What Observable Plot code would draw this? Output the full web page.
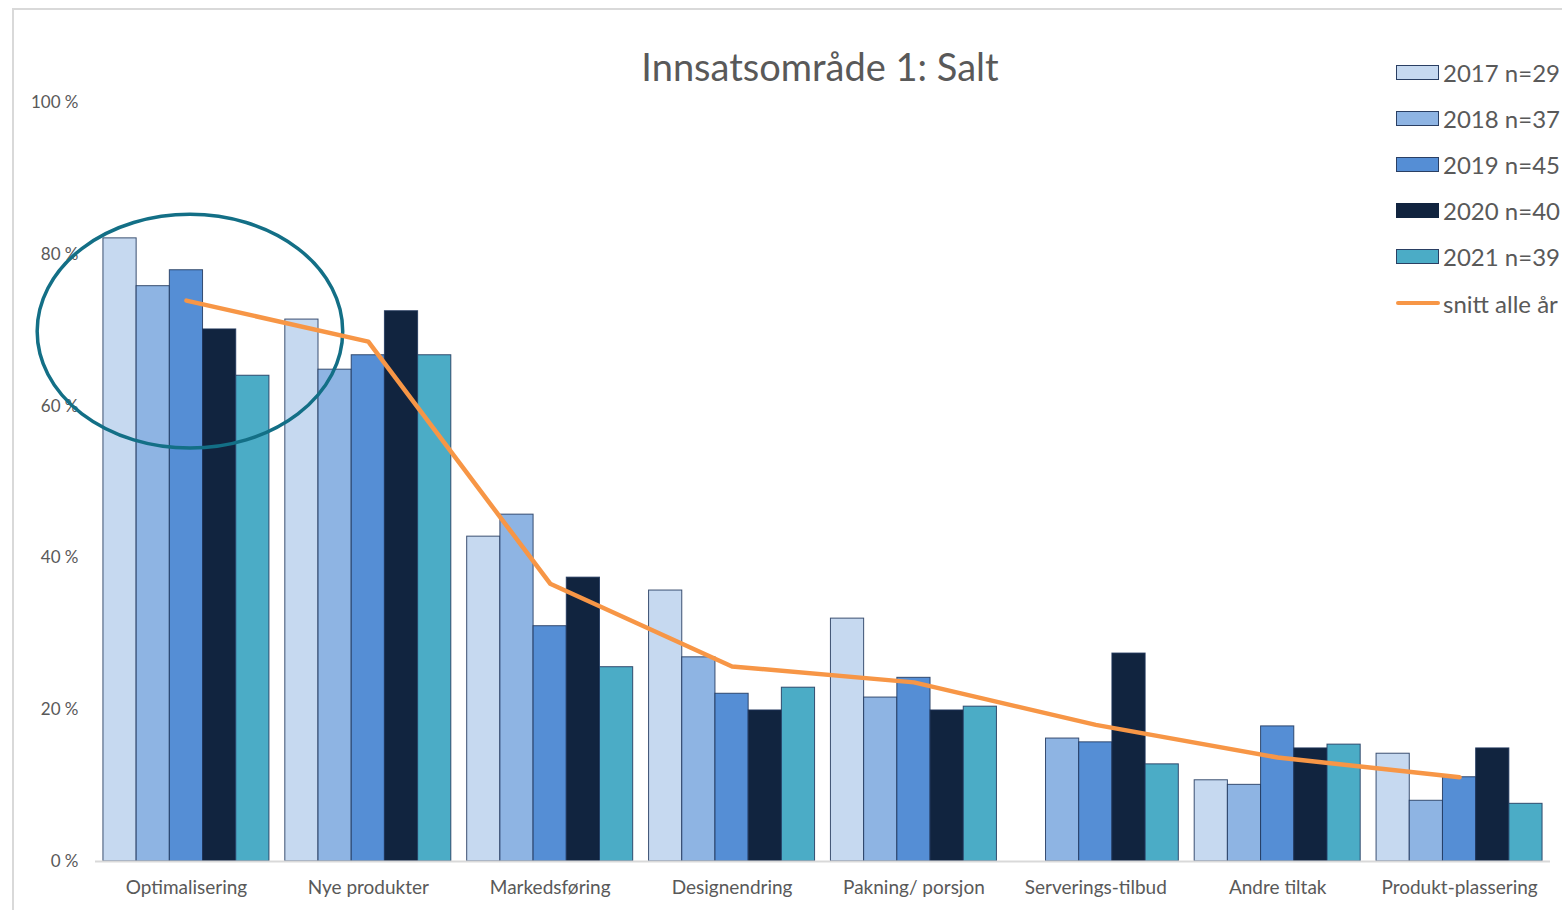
<!DOCTYPE html>
<html>
<head>
<meta charset="utf-8">
<script src="https://cdn.jsdelivr.net/npm/d3@7"></script>
<script src="https://cdn.jsdelivr.net/npm/@observablehq/plot@0.6"></script>
<style>
  html, body { margin: 0; padding: 0; background: #fff; overflow: hidden; }
  #wrap { position: relative; width: 1562px; height: 910px; overflow: hidden; font-family: Lato, "Open Sans", sans-serif; color: #595959; }
  #frame { position: absolute; left: 12px; top: 8px; width: 1600px; height: 1000px; border: 2px solid #d9d9d9; box-sizing: border-box; }
  #chart { position: absolute; left: 0; top: 0; }
  #title { position: absolute; left: 0; width: 1640px; text-align: center; top: 43px; font-size: 38px; white-space: nowrap; }
  .leg { position: absolute; left: 1396px; height: 24px; white-space: nowrap; font-size: 24px; display: flex; align-items: center; }
  .leg .sw { width: 43px; height: 15px; box-sizing: border-box; border: 1.5px solid #2a3f63; margin-right: 4px; }
  .leg .ln { width: 44px; height: 4px; margin-right: 3px; border-radius: 2px; }
</style>
</head>
<body>
<div id="wrap">
  <div id="frame"></div>
  <div id="chart"></div>
  <div id="title">Innsatsområde 1: Salt</div>
  <div id="legend"></div>
</div>
<script>
// ---- data ----
const categories = ["Optimalisering", "Nye produkter", "Markedsføring", "Designendring", "Pakning/ porsjon", "Serverings-tilbud", "Andre tiltak", "Produkt-plassering"];
const seriesNames = ["2017 n=29", "2018 n=37", "2019 n=45", "2020 n=40", "2021 n=39"];
const seriesColors = ["#c6d9f0", "#8eb4e3", "#558ed5", "#11243f", "#4bacc6"];
const v2017 = [82.1, 71.4, 42.8, 35.7, 32.0, null, 10.7, 14.2];
const v2018 = [75.8, 64.8, 45.7, 26.9, 21.6, 16.2, 10.1, 8.0];
const v2019 = [77.9, 66.7, 31.0, 22.1, 24.2, 15.7, 17.8, 11.1];
const v2020 = [70.1, 72.5, 37.4, 19.9, 19.9, 27.4, 14.9, 14.9];
const v2021 = [64.0, 66.7, 25.6, 22.9, 20.4, 12.8, 15.4, 7.6];
const avgName = "snitt alle år";
const avgValues = [73.9, 68.5, 36.6, 25.7, 23.6, 18.0, 13.7, 11.1];
const yTicks = [0, 20, 40, 60, 80, 100];
// highlight ellipse annotation (around first category)
const ellipseCategory = "Optimalisering";
const ellipseCenterValue = 69.8;
const ellipseHalfHeightValue = 15.4;
const ellipseHalfWidthBands = 0.84;

// ---- build ----
const seriesValues = [v2017, v2018, v2019, v2020, v2021];
const W = 1562, H = 910;
const mL = 95, mR = 12, mT = 102, mB = 49;
const bw = (W - mL - mR) / categories.length;
const groupW = 166;
const pad = (bw - groupW) / 2;
const barW = groupW / seriesNames.length;

const barMarks = seriesNames.map((name, i) => {
  const rows = categories.map((c, j) => ({cat: c, v: seriesValues[i][j]})).filter(d => d.v != null);
  return Plot.barY(rows, {
    x: "cat", y: "v",
    fill: seriesColors[i],
    stroke: "#1f355a", strokeWidth: 1, strokeOpacity: 0.85,
    insetLeft: pad + i * barW,
    insetRight: bw - pad - (i + 1) * barW
  });
});

const avgRows = categories.map((c, j) => ({cat: c, v: avgValues[j]}));

const ellipseMark = (index, scales, values, dims) => {
  const sx = scales.x, sy = scales.y;
  const band = typeof sx.bandwidth === "function" ? sx.bandwidth() : sx.bandwidth;
  const cx = sx(ellipseCategory) + band / 2 + 4;
  const cy = sy(ellipseCenterValue);
  const ry = Math.abs(sy(ellipseCenterValue + ellipseHalfHeightValue) - cy);
  const rx = band * ellipseHalfWidthBands;
  const e = document.createElementNS("http://www.w3.org/2000/svg", "ellipse");
  e.setAttribute("cx", cx); e.setAttribute("cy", cy);
  e.setAttribute("rx", rx); e.setAttribute("ry", ry);
  e.setAttribute("fill", "none");
  e.setAttribute("stroke", "#136f86");
  e.setAttribute("stroke-width", 3.5);
  return e;
};

const chart = Plot.plot({
  width: W, height: H,
  marginLeft: mL, marginRight: mR, marginTop: mT, marginBottom: mB,
  style: {fontFamily: "Lato, 'Open Sans', sans-serif", color: "#595959", background: "transparent", overflow: "visible"},
  x: {domain: categories, padding: 0, round: false, label: null},
  y: {domain: [0, 100], label: null},
  marks: [
    Plot.axisY({ticks: yTicks, tickSize: 0, tickPadding: 17, tickFormat: d => d + " %", fontSize: 17, label: null}),
    Plot.axisX({tickSize: 0, tickPadding: 19, fontSize: 19, label: null}),
    ...barMarks,
    Plot.ruleY([0], {stroke: "#d9d9d9", strokeWidth: 2}),
    ellipseMark,
    Plot.line(avgRows, {x: "cat", y: "v", stroke: "#f79646", strokeWidth: 4.5, strokeLinecap: "round", strokeLinejoin: "round"})
  ]
});
document.getElementById("chart").appendChild(chart);

// legend
const legend = document.getElementById("legend");
const legTop = 72, legStep = 46.2;
seriesNames.forEach((name, i) => {
  const d = document.createElement("div");
  d.className = "leg";
  d.style.top = (legTop + i * legStep - 12) + "px";
  const sw = document.createElement("div");
  sw.className = "sw";
  sw.style.background = seriesColors[i];
  if (i === 3) sw.style.borderColor = seriesColors[i];
  d.appendChild(sw);
  d.appendChild(document.createTextNode(name));
  legend.appendChild(d);
});
{
  const d = document.createElement("div");
  d.className = "leg";
  d.style.top = (legTop + seriesNames.length * legStep - 12) + "px";
  const ln = document.createElement("div");
  ln.className = "ln";
  ln.style.background = "#f79646";
  d.appendChild(ln);
  d.appendChild(document.createTextNode(avgName));
  legend.appendChild(d);
}
</script>
</body>
</html>
